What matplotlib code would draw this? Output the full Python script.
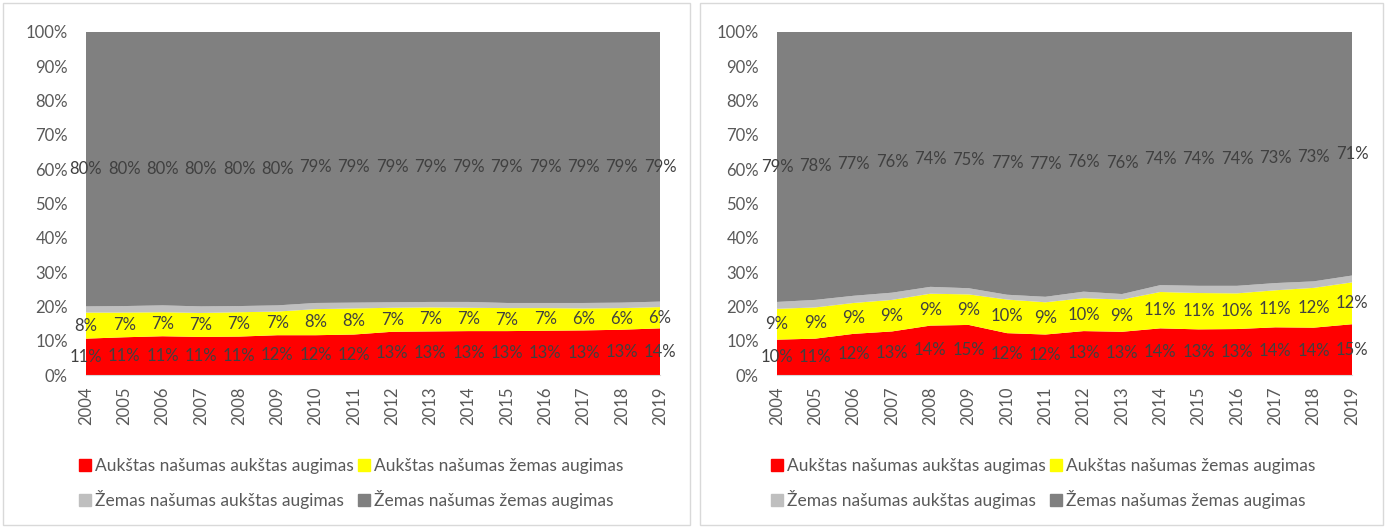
import matplotlib.pyplot as plt
import matplotlib.patches as mpatches
import numpy as np

plt.rcParams['font.family'] = ['Lato', 'DejaVu Sans']

years = [str(y) for y in range(2004, 2020)]
series_names = ["Aukštas našumas aukštas augimas", "Aukštas našumas žemas augimas",
                "Žemas našumas aukštas augimas", "Žemas našumas žemas augimas"]
colors = ["#FF0000", "#FFFF00", "#BFBFBF", "#808080"]

# kairysis grafikas (%)
left_red = [10.6, 11.0, 11.3, 11.1, 11.2, 11.6, 11.6, 11.8, 12.6, 12.7, 12.8, 12.8, 12.9, 13.0, 13.2, 13.6]
left_yellow = [7.6, 7.2, 7.0, 7.0, 7.1, 6.9, 7.6, 7.6, 7.0, 7.0, 6.8, 6.7, 6.6, 6.4, 6.3, 6.2]
left_light = [1.8, 1.9, 2.0, 1.9, 1.8, 1.8, 1.8, 1.7, 1.6, 1.6, 1.7, 1.5, 1.5, 1.6, 1.6, 1.6]
left_dark = [80.0, 79.9, 79.7, 80.0, 79.9, 79.7, 79.0, 78.9, 78.8, 78.7, 78.7, 79.0, 79.0, 79.0, 78.9, 78.6]

# desinysis grafikas (%)
right_red = [10.3, 10.6, 12.0, 12.7, 14.4, 14.6, 12.2, 11.8, 12.8, 12.6, 13.6, 13.3, 13.4, 13.9, 13.8, 14.8]
right_yellow = [9.0, 9.1, 9.0, 9.2, 9.3, 8.9, 9.8, 9.4, 9.6, 9.4, 10.6, 10.6, 10.4, 10.8, 11.6, 12.2]
right_light = [2.0, 2.2, 2.1, 2.1, 2.0, 1.8, 1.4, 1.6, 1.9, 1.6, 2.0, 2.1, 2.2, 2.1, 1.9, 2.0]
right_dark = [78.7, 78.1, 76.9, 76.0, 74.3, 74.7, 76.6, 77.2, 75.7, 76.4, 73.8, 74.0, 74.0, 73.2, 72.7, 71.0]

W, H = 1386, 528
fig = plt.figure(figsize=(W / 100, H / 100), dpi=100)


def px(x0, y0, x1, y1):
    return [x0 / W, 1 - y1 / H, (x1 - x0) / W, (y1 - y0) / H]


def draw(rect, frame, data, leg_x):
    # panelio remelis
    fig.patches.append(mpatches.Rectangle((frame[0] / W, 1 - frame[3] / H),
                                          (frame[2] - frame[0]) / W, (frame[3] - frame[1]) / H,
                                          transform=fig.transFigure, fill=False,
                                          edgecolor="#D9D9D9", linewidth=1))
    ax = fig.add_axes(px(*rect))
    x = np.arange(len(years))
    arr = np.array(data, dtype=float)
    arr = arr / arr.sum(axis=0) * 100
    ax.stackplot(x, arr, colors=colors, linewidth=0)
    cum = np.cumsum(arr, axis=0)
    for i in [0, 1, 3]:
        mid = cum[i] - arr[i] / 2
        for xi, m, v in zip(x, mid, np.array(data[i])):
            ax.text(xi, m, f"{v:.0f}%", ha="center", va="center", fontsize=12, color="#404040")
    ax.set_xlim(0, len(years) - 1)
    ax.set_ylim(0, 100)
    ax.set_yticks(range(0, 101, 10))
    ax.set_yticklabels([f"{t}%" for t in range(0, 101, 10)], fontsize=12, color="#595959")
    ax.set_xticks(x)
    ax.set_xticklabels(years, rotation=90, fontsize=12, color="#595959")
    ax.tick_params(axis="y", length=0, pad=13)
    ax.tick_params(axis="x", length=0, pad=8)
    for s in ["top", "right", "left"]:
        ax.spines[s].set_visible(False)
    ax.spines["bottom"].set_color("#D9D9D9")
    handles = [mpatches.Patch(color=colors[i]) for i in [0, 2, 1, 3]]
    labels = [series_names[i] for i in [0, 2, 1, 3]]
    fig.legend(handles, labels, ncol=2, loc="upper left",
               bbox_to_anchor=(leg_x / W, 1 - 451 / H), frameon=False,
               fontsize=12.5, labelcolor="#595959", handlelength=0.7, handleheight=0.7,
               handletextpad=0.25, columnspacing=0.2, labelspacing=0.95, borderaxespad=0)
    return ax


draw((86, 32, 660, 375), (3, 3, 690, 525), [left_red, left_yellow, left_light, left_dark], 72)
draw((777, 32, 1352, 375), (700, 3, 1383, 525), [right_red, right_yellow, right_light, right_dark], 764)

fig.savefig("out.png", dpi=100)
